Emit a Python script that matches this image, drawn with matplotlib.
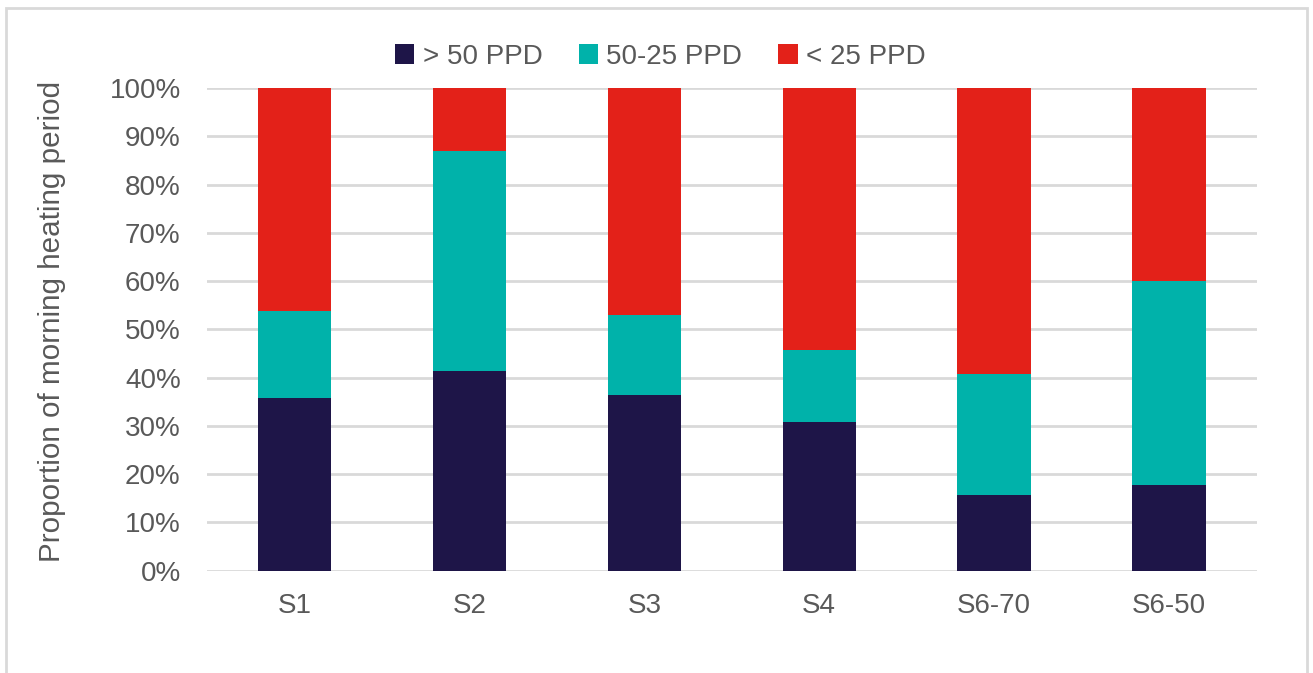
import matplotlib
matplotlib.use("Agg")
import matplotlib.pyplot as plt
from matplotlib.patches import Rectangle
from matplotlib.ticker import PercentFormatter

plt.rcParams['font.family'] = ['Liberation Sans', 'DejaVu Sans']

categories = ["S1", "S2", "S3", "S4", "S6-70", "S6-50"]
above_50 = [35.7, 41.4, 36.3, 30.7, 15.6, 17.8]
between_50_25 = [18.0, 45.5, 16.7, 14.9, 25.1, 42.3]
below_25 = [100 - a - b for a, b in zip(above_50, between_50_25)]
series_labels = ["> 50 PPD", "50-25 PPD", "< 25 PPD"]
colors = ["#1e1548", "#00b2aa", "#e32119"]
text_color = "#595959"
grid_color = "#d9d9d9"

fig = plt.figure(figsize=(13.13, 6.73), dpi=100)
ax = fig.add_axes([0.1577, 0.1523, 0.7993, 0.7169])

# outer chart frame
fig.patches.append(Rectangle((0.0046, -0.02), 0.9908, 1.008, transform=fig.transFigure,
                             fill=False, edgecolor=grid_color, linewidth=2.0))

x = range(len(categories))
bottom = [0.0] * len(categories)
for vals, lab, col in zip([above_50, between_50_25, below_25], series_labels, colors):
    ax.bar(x, vals, width=0.42, bottom=bottom, color=col, label=lab, zorder=3)
    bottom = [b + v for b, v in zip(bottom, vals)]

ax.set_xlim(-0.5, len(categories) - 0.5)
ax.set_ylim(0, 100)
ax.set_yticks(range(0, 101, 10))
ax.yaxis.set_major_formatter(PercentFormatter(decimals=0))
ax.set_xticks(list(x))
ax.set_xticklabels(categories)
ax.grid(axis='y', color=grid_color, linewidth=2.0, zorder=0)
ax.set_axisbelow(True)
for s in ax.spines.values():
    s.set_visible(False)
ax.tick_params(length=0, labelsize=20, labelcolor=text_color)
ax.tick_params(axis='y', pad=19)
ax.tick_params(axis='x', pad=16)
ax.set_ylabel("Proportion of morning heating period", fontsize=21.3, color=text_color)
ax.yaxis.set_label_coords(-0.134, 0.517)

leg = fig.legend(loc='center', bbox_to_anchor=(0.503, 0.916), ncol=3, frameon=False,
                 fontsize=20, labelcolor=text_color, handlelength=0.7, handleheight=0.7,
                 handletextpad=0.3, columnspacing=1.3)

fig.savefig("out.png", dpi=100)
